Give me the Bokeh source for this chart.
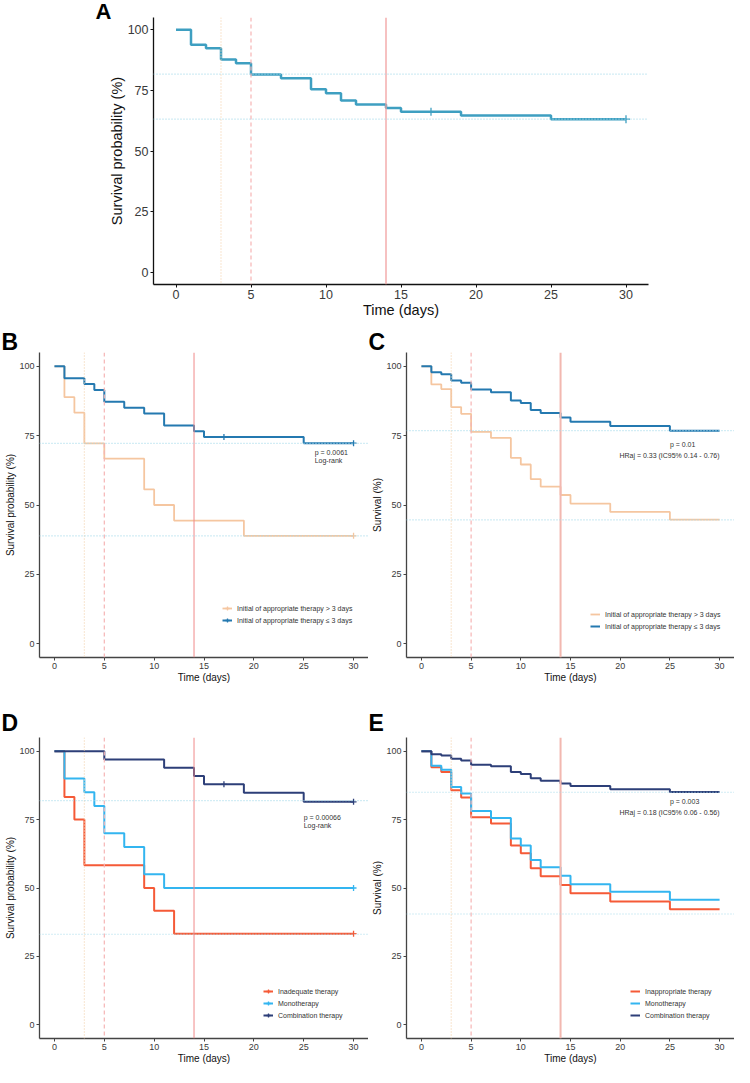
import bisect
from bokeh.plotting import figure
from bokeh.layouts import column, row
from bokeh.models import Span, Label, Legend, LegendItem, FixedTicker, Range1d, Title
from bokeh.embed import file_html
from bokeh.resources import INLINE

# ---------------- data ----------------
time_ticks = [0, 5, 10, 15, 20, 25, 30]
surv_ticks = [0, 25, 50, 75, 100]
ref_days = [3, 5, 14]

# Panel A - overall
a_time = [0, 1, 2, 3, 4, 5, 7, 9, 10, 11, 12, 14, 15, 19, 25, 30]
a_surv = [100, 93.8, 92.3, 87.7, 86.2, 81.5, 80.0, 75.4, 73.8, 70.8, 69.2, 67.7, 66.2, 64.6, 63.1, 63.1]
a_censor = [17, 30]
a_hlines = [81.7, 63.1]

# Panel B - time to appropriate therapy (Kaplan-Meier)
b_late_time = [0, 1, 2, 3, 5, 9, 10, 12, 19, 30]
b_late_surv = [100, 88.9, 83.3, 72.2, 66.7, 55.6, 50.0, 44.4, 38.9, 38.9]
b_late_censor = [30]
b_early_time = [0, 1, 3, 4, 5, 7, 9, 11, 14, 15, 25, 30]
b_early_surv = [100, 95.7, 93.6, 91.5, 87.2, 85.1, 83.0, 78.7, 76.6, 74.5, 72.3, 72.3]
b_early_censor = [17, 30]
b_hlines = [72.2, 38.9]

# Panel C - time to appropriate therapy (adjusted)
c_time = [0, 1, 2, 3, 4, 5, 7, 9, 10, 11, 12, 14, 15, 19, 25, 30]
c_late_surv = [100, 93.5, 91.8, 85.3, 82.9, 76.4, 74.2, 67.0, 64.6, 59.3, 56.6, 53.6, 50.5, 47.5, 44.7, 44.7]
c_early_surv = [100, 97.9, 97.2, 94.9, 94.1, 91.7, 90.7, 87.7, 86.8, 84.3, 83.2, 81.6, 80.0, 78.5, 76.8, 76.8]
c_hlines = [76.8, 44.6]

# Panel D - therapy type (Kaplan-Meier)
d_inad_time = [0, 1, 2, 3, 9, 10, 12, 30]
d_inad_surv = [100, 83.3, 75.0, 58.3, 50.0, 41.7, 33.3, 33.3]
d_inad_censor = [30]
d_mono_time = [0, 1, 3, 4, 5, 7, 9, 11, 30]
d_mono_surv = [100, 90.0, 85.0, 80.0, 70.0, 65.0, 55.0, 50.0, 50.0]
d_mono_censor = [30]
d_comb_time = [0, 5, 11, 14, 15, 19, 25, 30]
d_comb_surv = [100, 97.0, 93.9, 90.9, 87.9, 84.8, 81.5, 81.5]
d_comb_censor = [17, 30]
d_hlines = [81.9, 33.1]

# Panel E - therapy type (adjusted)
e_time = [0, 1, 2, 3, 4, 5, 7, 9, 10, 11, 12, 14, 15, 19, 25, 30]
e_inap_surv = [100, 94.1, 92.4, 85.7, 83.1, 75.9, 73.6, 65.5, 62.7, 57.2, 54.3, 51.1, 48.1, 45.1, 42.2, 42.2]
e_mono_surv = [100, 94.7, 93.2, 86.9, 84.5, 78.1, 75.6, 68.1, 65.5, 60.2, 57.6, 54.5, 51.4, 48.6, 45.7, 45.7]
e_comb_surv = [100, 98.9, 98.4, 97.2, 96.6, 95.0, 94.5, 92.4, 91.7, 90.1, 89.2, 88.2, 87.3, 86.1, 85.1, 85.1]
e_hlines = [85.0, 40.5]

label_late = "Initial of appropriate therapy > 3 days"
label_early = "Initial of appropriate therapy \u2264 3 days"

# colours
COL_A = "#3E9FC1"
COL_LATE = "#F5C6A0"
COL_EARLY = "#2479B0"
COL_RED = "#F55A37"
COL_MONO = "#33B5F0"
COL_NAVY = "#2D3F78"

FONT = "Liberation Sans"
X0, X1 = -1.5, 31.5
Y0, Y1 = -5, 105


def value_at(times, surv, t):
    i = bisect.bisect_right(times, t) - 1
    return surv[i]


def make_panel(width, height, bl, br, bt, bb, letter, letter_offset, letter_standoff,
               ylabel, tick_fs, title_fs, hlines, v14_style, axis_col, letter_fs="23px"):
    p = figure(width=width, height=height, output_backend="svg", toolbar_location=None,
               x_range=Range1d(X0, X1), y_range=Range1d(Y0, Y1),
               min_border_left=bl, min_border_right=br, min_border_top=bt, min_border_bottom=bb)
    p.outline_line_color = None
    p.grid.visible = False
    p.add_layout(Title(text=letter, align="left", offset=letter_offset, standoff=letter_standoff,
                       text_font=FONT, text_font_style="bold", text_font_size=letter_fs,
                       text_color="black"), "above")
    p.xaxis.ticker = FixedTicker(ticks=time_ticks)
    p.yaxis.ticker = FixedTicker(ticks=surv_ticks)
    p.xaxis.axis_label = "Time (days)"
    p.yaxis.axis_label = ylabel
    for ax in (p.xaxis[0], p.yaxis[0]):
        ax.axis_label_text_font = FONT
        ax.axis_label_text_font_style = "normal"
        ax.axis_label_text_font_size = title_fs
        ax.axis_label_text_color = "#111111"
        ax.axis_label_standoff = 0
        ax.major_label_text_font = FONT
        ax.major_label_text_font_size = tick_fs
        ax.major_label_text_color = "#3a3a3a"
        ax.major_label_standoff = 2
        ax.major_tick_in = 0
        ax.major_tick_out = 3
        ax.major_tick_line_color = axis_col
        ax.minor_tick_line_color = None
        ax.axis_line_color = axis_col
        ax.axis_line_width = 1.3
    p.add_layout(Span(location=ref_days[0], dimension="height", line_color="#F3D3B0",
                      line_dash="1 2", line_width=1.2))
    p.add_layout(Span(location=ref_days[1], dimension="height", line_color="#F6B4B4",
                      line_dash="4 3", line_width=1.2))
    p.add_layout(Span(location=ref_days[2], dimension="height", line_color=v14_style[0],
                      line_width=v14_style[1]))
    for h in hlines:
        p.add_layout(Span(location=h, dimension="width", line_color="#A6DAEA",
                          line_dash="1 2", line_width=1.2))
    return p


def add_curve(p, times, surv, color, width, censor=None, csize=6):
    r = p.step(times, surv, mode="after", line_color=color, line_width=width)
    rs = [r]
    if censor:
        cy = [value_at(times, surv, t) for t in censor]
        c = p.scatter(censor, cy, marker="cross", size=csize, line_color=color, line_width=1.3)
        rs.append(c)
    return rs


def add_legend(p, items, loc):
    leg = Legend(items=[LegendItem(label=lab, renderers=rs) for lab, rs in items],
                 location=loc, orientation="vertical",
                 label_text_font=FONT, label_text_font_size="7px", label_text_color="#333333",
                 glyph_width=10, glyph_height=12, label_height=12, label_standoff=5,
                 spacing=0, padding=0, margin=0, border_line_color=None,
                 background_fill_alpha=0)
    p.add_layout(leg)


def add_text(p, x, y, txt, align="left"):
    p.add_layout(Label(x=x, y=y, text=txt, text_font=FONT, text_font_size="7px",
                       text_color="#333333", text_align=align, text_baseline="middle"))


# ---------------- Panel A ----------------
pA = make_panel(734, 326, 153, 86, 17, 42, "A", -58, -13, "Survival probability (%)",
                "12.5px", "14.5px", a_hlines, ("#F2A0A0", 1.3), "#111111", letter_fs="22px")
add_curve(pA, a_time, a_surv, COL_A, 2.5, a_censor, csize=8)

# ---------------- Panel B ----------------
pB = make_panel(368, 372, 39, 0, 26, 41, "B", -38, -4, "Survival probability (%)",
                "9px", "10px", b_hlines, ("#F08A8A", 1), "#444444")
rl = add_curve(pB, b_late_time, b_late_surv, COL_LATE, 1.8, b_late_censor)
re_ = add_curve(pB, b_early_time, b_early_surv, COL_EARLY, 2, b_early_censor)
add_legend(pB, [(label_late, rl), (label_early, re_)], (183, 31))
add_text(pB, 26.1, 69.0, "p = 0.0061")
add_text(pB, 26.1, 65.9, "Log-rank")

# ---------------- Panel C ----------------
pC = make_panel(366, 372, 38, 0, 26, 41, "C", -38, -4, "Survival (%)",
                "9px", "10px", c_hlines, ("#F2B8B0", 2), "#444444")
cl = add_curve(pC, c_time, c_late_surv, COL_LATE, 1.8)
ce = add_curve(pC, c_time, c_early_surv, COL_EARLY, 2)
add_legend(pC, [(label_late, cl), (label_early, ce)], (184, 25))
add_text(pC, 25.0, 71.8, "p = 0.01")
add_text(pC, 30.0, 67.8, "HRaj = 0.33 (IC95% 0.14 - 0.76)", align="right")

# ---------------- Panel D ----------------
pD = make_panel(368, 369, 39, 0, 39, 29, "D", -38, 4, "Survival probability (%)",
                "9px", "10px", d_hlines, ("#F08A8A", 1), "#444444")
dr = add_curve(pD, d_inad_time, d_inad_surv, COL_RED, 2, d_inad_censor)
dm = add_curve(pD, d_mono_time, d_mono_surv, COL_MONO, 2, d_mono_censor)
dn = add_curve(pD, d_comb_time, d_comb_surv, COL_NAVY, 2, d_comb_censor)
add_legend(pD, [("Inadequate therapy", dr), ("Monotherapy", dm), ("Combination therapy", dn)], (224, 17))
add_text(pD, 25.0, 75.6, "p = 0.00066")
add_text(pD, 25.0, 72.7, "Log-rank")

# ---------------- Panel E ----------------
pE = make_panel(366, 369, 38, 0, 39, 29, "E", -38, 4, "Survival (%)",
                "9px", "10px", e_hlines, ("#F2B8B0", 2), "#444444")
er = add_curve(pE, e_time, e_inap_surv, COL_RED, 2)
em = add_curve(pE, e_time, e_mono_surv, COL_MONO, 2)
en = add_curve(pE, e_time, e_comb_surv, COL_NAVY, 2)
add_legend(pE, [("Inappropriate therapy", er), ("Monotherapy", em), ("Combination therapy", en)], (224, 17))
add_text(pE, 25.0, 81.7, "p = 0.003")
add_text(pE, 30.0, 77.6, "HRaj = 0.18 (IC95% 0.06 - 0.56)", align="right")

layout = column(pA, row(pB, pC), row(pD, pE))
open("out.html", "w").write(file_html(layout, INLINE))
